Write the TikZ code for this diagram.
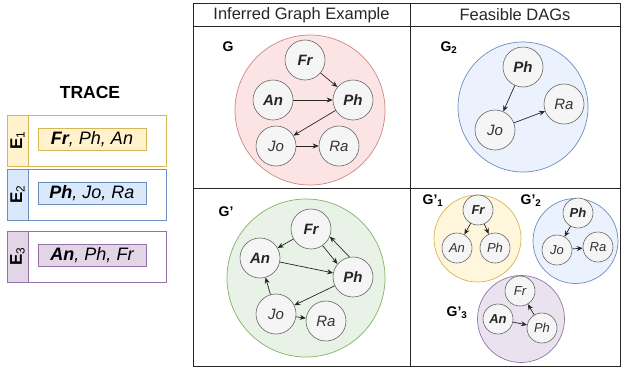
\documentclass[tikz,border=0pt]{standalone}
\usepackage{fontspec}
\setmainfont{Liberation Sans}
\usetikzlibrary{arrows.meta}
\definecolor{yfill}{HTML}{FFF2CC}\definecolor{ydraw}{HTML}{D6B656}
\definecolor{bfill}{HTML}{DAE8FC}\definecolor{bdraw}{HTML}{6C8EBF}
\definecolor{pfill}{HTML}{E1D5E7}\definecolor{pdraw}{HTML}{9673A6}
\definecolor{rfill}{HTML}{F8CECC}\definecolor{rdraw}{HTML}{B85450}
\definecolor{gfill}{HTML}{D5E8D4}\definecolor{gdraw}{HTML}{82B366}
\definecolor{nfill}{HTML}{F5F5F5}\definecolor{ndraw}{HTML}{666666}
\definecolor{ntext}{HTML}{333333}
\begin{document}
\begin{tikzpicture}[x=1pt,y=-1pt,
  big/.style={circle,draw=ndraw,fill=nfill,text=ntext,minimum size=40pt,inner sep=0pt,font=\fontsize{15}{15}\selectfont\itshape,line width=0.6pt},
  small/.style={circle,draw=ndraw,fill=nfill,text=ntext,minimum size=30pt,inner sep=0pt,font=\fontsize{13}{13}\selectfont\itshape,line width=0.6pt},
  bf/.style={text=black!85},
  edge/.style={-{Stealth[length=6pt,width=5pt]},line width=0.7pt,black!85},
  grp/.style={circle,inner sep=0pt,line width=0.7pt},
  glabel/.style={font=\fontsize{14}{14}\selectfont\bfseries,anchor=center},
  tab/.style={draw,line width=0.7pt},
]
\useasboundingbox (0,0) rectangle (621,370);
% table
\draw[line width=0.8pt,black!85] (193,3) rectangle (620,366);
\draw[line width=0.8pt,black!85] (193,26) -- (620,26);
\draw[line width=0.8pt,black!85] (193,188) -- (620,188);
\draw[line width=0.8pt,black!85] (410,3) -- (410,366);
\node[font=\fontsize{16.5}{16.5}\selectfont,text=black!85] (h1) at (301.5,15) {Inferred Graph Example};
\node[font=\fontsize{16.5}{16.5}\selectfont,text=black!85] (h2) at (515,15) {Feasible DAGs};

% TRACE
\node[font=\fontsize{17.5}{17.5}\selectfont\bfseries] (trace) at (90,92) {TRACE};
\foreach \i/\y/\f/\d/\txt in {1/115/yfill/ydraw/{\textbf{Fr}, Ph, An},2/169/bfill/bdraw/{\textbf{Ph}, Jo, Ra},3/231/pfill/pdraw/{\textbf{An}, Ph, Fr}}{
  \draw[tab,draw=\d,fill=white] (7,\y) rectangle (166,\y+51);
  \draw[tab,draw=\d,fill=\f] (7,\y) rectangle (28,\y+51);
  \node[rotate=90,font=\fontsize{17}{17}\selectfont\bfseries] (e\i) at (17.5,\y+25.5) {E\textsubscript{\mdseries\i}};
  \node[draw=\d,fill=\f,line width=0.7pt,minimum width=108pt,minimum height=22pt,inner sep=0pt,font=\fontsize{18}{18}\selectfont\itshape] (t\i) at (92,\y+24) {\txt};
}

% G
\node[glabel] (gl) at (228,47) {G};
\node[grp,draw=rdraw!70,fill=rfill!55,minimum size=150pt] (G) at (310,110) {};
\node[big,bf] (fr) at (305,60) {\textbf{Fr}};
\node[big,bf] (an) at (273,100) {\textbf{An}};
\node[big,bf] (ph) at (353,100) {\textbf{Ph}};
\node[big] (jo) at (276,146) {Jo};
\node[big] (ra) at (339,146) {Ra};
\draw[edge] (fr) -- (ph);
\draw[edge] (an) -- (ph);
\draw[edge] (ph) -- (jo);
\draw[edge] (jo) -- (ra);

% G2
\node[glabel] (g2l) at (449,48) {G\textsubscript{2}};
\node[grp,draw=bdraw,fill=bfill!55,minimum size=130pt] (G2) at (523,107) {};
\node[big,bf] (ph2) at (523,67) {\textbf{Ph}};
\node[big] (jo2) at (495,130) {Jo};
\node[big] (ra2) at (564,104) {Ra};
\draw[edge] (ph2) -- (jo2);
\draw[edge] (jo2) -- (ra2);

% G'
\node[glabel] (gpl) at (226,212) {G'};
\node[grp,draw=gdraw,fill=gfill!55,minimum size=158pt] (Gp) at (306,278) {};
\node[big,bf] (frp) at (311,229) {\textbf{Fr}};
\node[big,bf] (anp) at (260,258) {\textbf{An}};
\node[big,bf] (php) at (353,277) {\textbf{Ph}};
\node[big] (jop) at (276,314) {Jo};
\node[big] (rap) at (326,321) {Ra};
\draw[edge] (frp) -- (anp);
\draw[edge] (anp) -- (php);
\draw[edge] (frp.-55) -- (php.140);
\draw[edge] (php.100) -- (frp.-22);
\draw[edge] (php) -- (jop);
\draw[edge] (jop) -- (anp);
\draw[edge] (jop) -- (rap);

% G'1
\node[glabel] (g1l) at (433,201) {G'\textsubscript{1}};
\node[grp,draw=ydraw,fill=yfill!70,minimum size=87pt] (G1) at (477.5,238.5) {};
\node[small,bf] (fr1) at (478,210) {\textbf{Fr}};
\node[small] (an1) at (457,248) {An};
\node[small] (ph1) at (495,248) {Ph};
\draw[edge] (fr1) -- (an1);
\draw[edge] (fr1) -- (ph1);

% G'2
\node[glabel] (g2pl) at (531,201) {G'\textsubscript{2}};
\node[grp,draw=bdraw,fill=bfill!55,minimum size=85pt] (G2p) at (575.5,241) {};
\node[small,bf] (ph3) at (578,213) {\textbf{Ph}};
\node[small] (jo3) at (557,250) {Jo};
\node[small] (ra3) at (598,247) {Ra};
\draw[edge] (ph3) -- (jo3);
\draw[edge] (jo3) -- (ra3);

% G'3
\node[glabel] (g3pl) at (457,313) {G'\textsubscript{3}};
\node[grp,draw=pdraw,fill=pfill!70,minimum size=87pt] (G3p) at (521,319) {};
\node[small] (fr4) at (520,291) {Fr};
\node[small,bf] (an4) at (498,319) {\textbf{An}};
\node[small] (ph4) at (542,328) {Ph};
\draw[edge] (an4) -- (ph4);
\draw[edge] (ph4) -- (fr4);
\end{tikzpicture}
\end{document}
